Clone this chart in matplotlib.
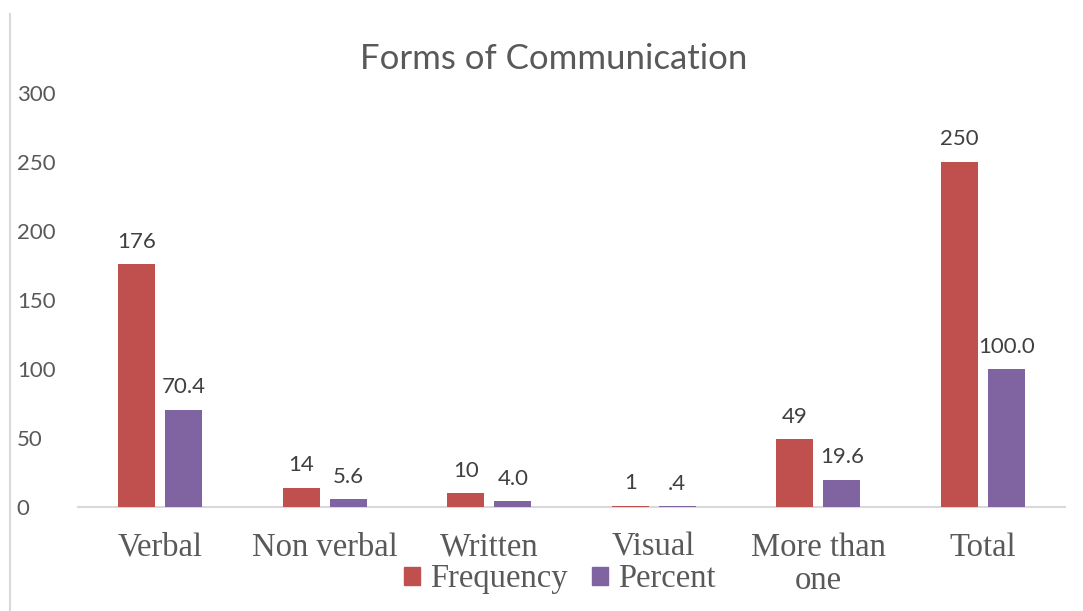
import matplotlib
matplotlib.use("Agg")
import matplotlib.pyplot as plt
from matplotlib.lines import Line2D
from matplotlib.patches import Patch
import numpy as np

categories = ["Verbal", "Non verbal", "Written", "Visual", "More than\none", "Total"]
frequency = [176, 14, 10, 1, 49, 250]
percent = [70.4, 5.6, 4.0, 0.4, 19.6, 100.0]
freq_labels = ["176", "14", "10", "1", "49", "250"]
pct_labels = ["70.4", "5.6", "4.0", ".4", "19.6", "100.0"]
yticks = [0, 50, 100, 150, 200, 250, 300]

RED = "#C0504D"
PURPLE = "#8064A2"
GRID = "#D9D9D9"
TEXT = "#595959"
LABEL = "#404040"
sans = ["Lato", "DejaVu Sans"]
serif = ["Liberation Serif", "DejaVu Serif"]

fig = plt.figure(figsize=(10.83, 6.11), dpi=100)
ax = fig.add_axes([0.072, 0.1702, 0.9114, 0.6776])

x = np.arange(len(categories))
w = 0.225
off = 0.143
b1 = ax.bar(x - off, frequency, w, color=RED, label="Frequency", zorder=3)
b2 = ax.bar(x + off, percent, w, color=PURPLE, label="Percent", zorder=3)

for bars, labs in ((b1, freq_labels), (b2, pct_labels)):
    for rect, lab in zip(bars, labs):
        ax.annotate(lab, (rect.get_x() + rect.get_width() / 2, rect.get_height()),
                    xytext=(0, 9), textcoords="offset points", ha="center", va="bottom",
                    fontsize=16, color=LABEL, family=sans)

ax.set_xlim(-0.5, len(categories) - 0.5)
ax.set_ylim(0, 300)
ax.set_yticks(yticks)
ax.set_yticklabels([str(t) for t in yticks], fontsize=16, color=TEXT, family=sans)
ax.set_xticks(x)
ax.set_xticklabels(categories, fontsize=23.5, color=TEXT, family=serif, linespacing=1.12)
ax.tick_params(axis="both", length=0)
ax.tick_params(axis="x", pad=18)
ax.tick_params(axis="y", pad=0)
for lab in ax.get_yticklabels():
    lab.set_horizontalalignment("left")
    lab.set_x(-0.062)
for s in ("top", "right", "left"):
    ax.spines[s].set_visible(False)
ax.spines["bottom"].set_color(GRID)
ax.spines["bottom"].set_linewidth(1.5)
ax.spines["bottom"].set_zorder(2)

fig.text(0.511, 0.903, "Forms of Communication", ha="center", va="center",
         fontsize=25, color=TEXT, family=sans)

handles = [Patch(color=RED), Patch(color=PURPLE)]
leg = fig.legend(handles, ["Frequency", "Percent"], loc="center", bbox_to_anchor=(0.517, 0.052),
                 ncol=2, frameon=False, prop={"family": serif, "size": 23.5},
                 handlelength=0.5, handleheight=0.5, handletextpad=0.3, columnspacing=0.75)
for t in leg.get_texts():
    t.set_color(TEXT)

fig.add_artist(Line2D([10 / 1083, 10 / 1083], [0, 1 - 14 / 611], transform=fig.transFigure,
                      color=GRID, linewidth=1.5))

fig.savefig("out.png", dpi=100)
